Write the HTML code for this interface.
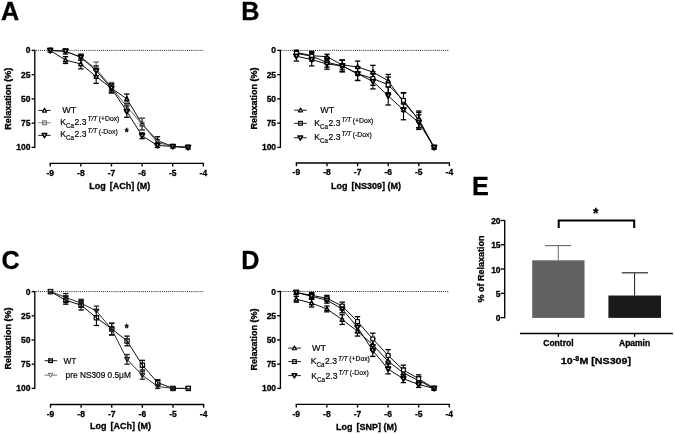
<!DOCTYPE html><html><head><meta charset="utf-8"><title>Figure</title><style>html,body{margin:0;padding:0;background:#fff;overflow:hidden}svg{display:block;filter:grayscale(1) blur(0.3px)}text{font-family:"Liberation Sans",sans-serif;fill:#000}text{stroke:#000;stroke-width:0.18px}text[font-weight="bold"]{stroke-width:0.3px}</style></head><body>
<svg width="675" height="434" viewBox="0 0 675 434">
<rect width="675" height="434" fill="#fff"/>
<text x="0.9" y="19.6" font-size="25.2" font-weight="bold" text-anchor="start" >A</text>
<text x="241.3" y="19.6" font-size="25.2" font-weight="bold" text-anchor="start" >B</text>
<text x="1.5" y="269.3" font-size="25.2" font-weight="bold" text-anchor="start" >C</text>
<text x="241.3" y="269" font-size="25.2" font-weight="bold" text-anchor="start" >D</text>
<text x="471.9" y="194.7" font-size="25.2" font-weight="bold" text-anchor="start" >E</text>
<line x1="34.8" y1="49.8" x2="34.8" y2="148" stroke="#000" stroke-width="1.35" />
<line x1="31.6" y1="50.4" x2="34.8" y2="50.4" stroke="#000" stroke-width="1.35" />
<text x="30.5" y="53.4" font-size="8.5" font-weight="bold" text-anchor="end" >0</text>
<line x1="31.6" y1="74.65" x2="34.8" y2="74.65" stroke="#000" stroke-width="1.35" />
<text x="30.5" y="77.65" font-size="8.5" font-weight="bold" text-anchor="end" >25</text>
<line x1="31.6" y1="98.9" x2="34.8" y2="98.9" stroke="#000" stroke-width="1.35" />
<text x="30.5" y="101.9" font-size="8.5" font-weight="bold" text-anchor="end" >50</text>
<line x1="31.6" y1="123.15" x2="34.8" y2="123.15" stroke="#000" stroke-width="1.35" />
<text x="30.5" y="126.15" font-size="8.5" font-weight="bold" text-anchor="end" >75</text>
<line x1="31.6" y1="147.4" x2="34.8" y2="147.4" stroke="#000" stroke-width="1.35" />
<text x="30.5" y="150.4" font-size="8.5" font-weight="bold" text-anchor="end" >100</text>
<line x1="35.8" y1="50.4" x2="202.9" y2="50.4" stroke="#000" stroke-width="0.9" stroke-dasharray="1,1.1"/>
<line x1="49.6" y1="163.3" x2="204" y2="163.3" stroke="#000" stroke-width="1.35" />
<line x1="50.2" y1="163.3" x2="50.2" y2="166.5" stroke="#000" stroke-width="1.35" />
<text x="50.2" y="175.5" font-size="8.5" font-weight="bold" text-anchor="middle" >-9</text>
<line x1="80.84" y1="163.3" x2="80.84" y2="166.5" stroke="#000" stroke-width="1.35" />
<text x="80.84" y="175.5" font-size="8.5" font-weight="bold" text-anchor="middle" >-8</text>
<line x1="111.48" y1="163.3" x2="111.48" y2="166.5" stroke="#000" stroke-width="1.35" />
<text x="111.48" y="175.5" font-size="8.5" font-weight="bold" text-anchor="middle" >-7</text>
<line x1="142.12" y1="163.3" x2="142.12" y2="166.5" stroke="#000" stroke-width="1.35" />
<text x="142.12" y="175.5" font-size="8.5" font-weight="bold" text-anchor="middle" >-6</text>
<line x1="172.76" y1="163.3" x2="172.76" y2="166.5" stroke="#000" stroke-width="1.35" />
<text x="172.76" y="175.5" font-size="8.5" font-weight="bold" text-anchor="middle" >-5</text>
<line x1="203.4" y1="163.3" x2="203.4" y2="166.5" stroke="#000" stroke-width="1.35" />
<text x="203.4" y="175.5" font-size="8.5" font-weight="bold" text-anchor="middle" >-4</text>
<text x="89.3" y="189.2" font-size="9" font-weight="bold" text-anchor="start" xml:space="preserve">Log <tspan dx="1.5">[ACh] (M)</tspan></text>
<text x="0" y="0" font-size="9" font-weight="bold" text-anchor="middle" transform="translate(11.3,98.8) rotate(-90)">Relaxation (%)</text>
<polyline points="50.2,50.4 65.52,60.1 80.84,63.98 96.16,76.59 111.48,88.23 126.8,98.9 142.12,124.12 157.44,140.61 172.76,146.43 188.08,147.4" fill="none" stroke="#000" stroke-width="0.95"/>
<polyline points="50.2,50.4 65.52,51.37 80.84,57.19 96.16,68.83 111.48,87.26 126.8,106.66 142.12,124.12 157.44,142.55 172.76,146.43 188.08,147.4" fill="none" stroke="#555" stroke-width="0.95"/>
<polyline points="50.2,50.4 65.52,51.37 80.84,57.19 96.16,70.77 111.48,88.23 126.8,111.51 142.12,135.76 157.44,145.46 172.76,146.43 188.08,147.4" fill="none" stroke="#000" stroke-width="0.95"/>
<line x1="65.52" y1="56.7" x2="65.52" y2="63.49" stroke="#000" stroke-width="1.1" />
<line x1="62.82" y1="56.7" x2="68.22" y2="56.7" stroke="#000" stroke-width="1.3" />
<line x1="62.82" y1="63.49" x2="68.22" y2="63.49" stroke="#000" stroke-width="1.3" />
<line x1="80.84" y1="59.13" x2="80.84" y2="68.83" stroke="#000" stroke-width="1.1" />
<line x1="78.14" y1="59.13" x2="83.54" y2="59.13" stroke="#000" stroke-width="1.3" />
<line x1="78.14" y1="68.83" x2="83.54" y2="68.83" stroke="#000" stroke-width="1.3" />
<line x1="96.16" y1="69.8" x2="96.16" y2="83.38" stroke="#000" stroke-width="1.1" />
<line x1="93.46" y1="69.8" x2="98.86" y2="69.8" stroke="#000" stroke-width="1.3" />
<line x1="93.46" y1="83.38" x2="98.86" y2="83.38" stroke="#000" stroke-width="1.3" />
<line x1="111.48" y1="83.38" x2="111.48" y2="93.08" stroke="#000" stroke-width="1.1" />
<line x1="108.78" y1="83.38" x2="114.18" y2="83.38" stroke="#000" stroke-width="1.3" />
<line x1="108.78" y1="93.08" x2="114.18" y2="93.08" stroke="#000" stroke-width="1.3" />
<line x1="126.8" y1="94.05" x2="126.8" y2="103.75" stroke="#000" stroke-width="1.1" />
<line x1="124.1" y1="94.05" x2="129.5" y2="94.05" stroke="#000" stroke-width="1.3" />
<line x1="124.1" y1="103.75" x2="129.5" y2="103.75" stroke="#000" stroke-width="1.3" />
<line x1="142.12" y1="118.3" x2="142.12" y2="129.94" stroke="#000" stroke-width="1.1" />
<line x1="139.42" y1="118.3" x2="144.82" y2="118.3" stroke="#000" stroke-width="1.3" />
<line x1="139.42" y1="129.94" x2="144.82" y2="129.94" stroke="#000" stroke-width="1.3" />
<line x1="157.44" y1="136.73" x2="157.44" y2="144.49" stroke="#000" stroke-width="1.1" />
<line x1="154.74" y1="136.73" x2="160.14" y2="136.73" stroke="#000" stroke-width="1.3" />
<line x1="154.74" y1="144.49" x2="160.14" y2="144.49" stroke="#000" stroke-width="1.3" />
<line x1="172.76" y1="145.46" x2="172.76" y2="147.4" stroke="#000" stroke-width="1.1" />
<line x1="170.06" y1="145.46" x2="175.46" y2="145.46" stroke="#000" stroke-width="1.3" />
<line x1="170.06" y1="147.4" x2="175.46" y2="147.4" stroke="#000" stroke-width="1.3" />
<line x1="65.52" y1="48.95" x2="65.52" y2="53.8" stroke="#666" stroke-width="1.1" />
<line x1="62.82" y1="48.95" x2="68.22" y2="48.95" stroke="#666" stroke-width="1.3" />
<line x1="62.82" y1="53.8" x2="68.22" y2="53.8" stroke="#666" stroke-width="1.3" />
<line x1="80.84" y1="54.28" x2="80.84" y2="60.1" stroke="#666" stroke-width="1.1" />
<line x1="78.14" y1="54.28" x2="83.54" y2="54.28" stroke="#666" stroke-width="1.3" />
<line x1="78.14" y1="60.1" x2="83.54" y2="60.1" stroke="#666" stroke-width="1.3" />
<line x1="96.16" y1="62.04" x2="96.16" y2="75.62" stroke="#666" stroke-width="1.1" />
<line x1="93.46" y1="62.04" x2="98.86" y2="62.04" stroke="#666" stroke-width="1.3" />
<line x1="93.46" y1="75.62" x2="98.86" y2="75.62" stroke="#666" stroke-width="1.3" />
<line x1="111.48" y1="82.41" x2="111.48" y2="92.11" stroke="#666" stroke-width="1.1" />
<line x1="108.78" y1="82.41" x2="114.18" y2="82.41" stroke="#666" stroke-width="1.3" />
<line x1="108.78" y1="92.11" x2="114.18" y2="92.11" stroke="#666" stroke-width="1.3" />
<line x1="126.8" y1="101.81" x2="126.8" y2="111.51" stroke="#666" stroke-width="1.1" />
<line x1="124.1" y1="101.81" x2="129.5" y2="101.81" stroke="#666" stroke-width="1.3" />
<line x1="124.1" y1="111.51" x2="129.5" y2="111.51" stroke="#666" stroke-width="1.3" />
<line x1="142.12" y1="118.3" x2="142.12" y2="129.94" stroke="#666" stroke-width="1.1" />
<line x1="139.42" y1="118.3" x2="144.82" y2="118.3" stroke="#666" stroke-width="1.3" />
<line x1="139.42" y1="129.94" x2="144.82" y2="129.94" stroke="#666" stroke-width="1.3" />
<line x1="157.44" y1="139.64" x2="157.44" y2="145.46" stroke="#666" stroke-width="1.1" />
<line x1="154.74" y1="139.64" x2="160.14" y2="139.64" stroke="#666" stroke-width="1.3" />
<line x1="154.74" y1="145.46" x2="160.14" y2="145.46" stroke="#666" stroke-width="1.3" />
<line x1="172.76" y1="145.46" x2="172.76" y2="147.4" stroke="#666" stroke-width="1.1" />
<line x1="170.06" y1="145.46" x2="175.46" y2="145.46" stroke="#666" stroke-width="1.3" />
<line x1="170.06" y1="147.4" x2="175.46" y2="147.4" stroke="#666" stroke-width="1.3" />
<line x1="65.52" y1="48.95" x2="65.52" y2="53.8" stroke="#000" stroke-width="1.1" />
<line x1="62.82" y1="48.95" x2="68.22" y2="48.95" stroke="#000" stroke-width="1.3" />
<line x1="62.82" y1="53.8" x2="68.22" y2="53.8" stroke="#000" stroke-width="1.3" />
<line x1="80.84" y1="54.28" x2="80.84" y2="60.1" stroke="#000" stroke-width="1.1" />
<line x1="78.14" y1="54.28" x2="83.54" y2="54.28" stroke="#000" stroke-width="1.3" />
<line x1="78.14" y1="60.1" x2="83.54" y2="60.1" stroke="#000" stroke-width="1.3" />
<line x1="96.16" y1="65.92" x2="96.16" y2="75.62" stroke="#000" stroke-width="1.1" />
<line x1="93.46" y1="65.92" x2="98.86" y2="65.92" stroke="#000" stroke-width="1.3" />
<line x1="93.46" y1="75.62" x2="98.86" y2="75.62" stroke="#000" stroke-width="1.3" />
<line x1="111.48" y1="84.35" x2="111.48" y2="92.11" stroke="#000" stroke-width="1.1" />
<line x1="108.78" y1="84.35" x2="114.18" y2="84.35" stroke="#000" stroke-width="1.3" />
<line x1="108.78" y1="92.11" x2="114.18" y2="92.11" stroke="#000" stroke-width="1.3" />
<line x1="126.8" y1="105.69" x2="126.8" y2="117.33" stroke="#000" stroke-width="1.1" />
<line x1="124.1" y1="105.69" x2="129.5" y2="105.69" stroke="#000" stroke-width="1.3" />
<line x1="124.1" y1="117.33" x2="129.5" y2="117.33" stroke="#000" stroke-width="1.3" />
<line x1="142.12" y1="132.85" x2="142.12" y2="138.67" stroke="#000" stroke-width="1.1" />
<line x1="139.42" y1="132.85" x2="144.82" y2="132.85" stroke="#000" stroke-width="1.3" />
<line x1="139.42" y1="138.67" x2="144.82" y2="138.67" stroke="#000" stroke-width="1.3" />
<line x1="157.44" y1="143.52" x2="157.44" y2="147.4" stroke="#000" stroke-width="1.1" />
<line x1="154.74" y1="143.52" x2="160.14" y2="143.52" stroke="#000" stroke-width="1.3" />
<line x1="154.74" y1="147.4" x2="160.14" y2="147.4" stroke="#000" stroke-width="1.3" />
<line x1="172.76" y1="145.46" x2="172.76" y2="147.4" stroke="#000" stroke-width="1.1" />
<line x1="170.06" y1="145.46" x2="175.46" y2="145.46" stroke="#000" stroke-width="1.3" />
<line x1="170.06" y1="147.4" x2="175.46" y2="147.4" stroke="#000" stroke-width="1.3" />
<polygon points="50.2,48.2 52.2,52.05 48.2,52.05" fill="#fff" stroke="#000" stroke-width="1.5" stroke-linejoin="round"/>
<polygon points="65.52,57.9 67.52,61.75 63.52,61.75" fill="#fff" stroke="#000" stroke-width="1.5" stroke-linejoin="round"/>
<polygon points="80.84,61.78 82.84,65.63 78.84,65.63" fill="#fff" stroke="#000" stroke-width="1.5" stroke-linejoin="round"/>
<polygon points="96.16,74.39 98.16,78.24 94.16,78.24" fill="#fff" stroke="#000" stroke-width="1.5" stroke-linejoin="round"/>
<polygon points="111.48,86.03 113.48,89.88 109.48,89.88" fill="#fff" stroke="#000" stroke-width="1.5" stroke-linejoin="round"/>
<polygon points="126.8,96.7 128.8,100.55 124.8,100.55" fill="#fff" stroke="#000" stroke-width="1.5" stroke-linejoin="round"/>
<polygon points="142.12,121.92 144.12,125.77 140.12,125.77" fill="#fff" stroke="#000" stroke-width="1.5" stroke-linejoin="round"/>
<polygon points="157.44,138.41 159.44,142.26 155.44,142.26" fill="#fff" stroke="#000" stroke-width="1.5" stroke-linejoin="round"/>
<polygon points="172.76,144.23 174.76,148.08 170.76,148.08" fill="#fff" stroke="#000" stroke-width="1.5" stroke-linejoin="round"/>
<polygon points="188.08,145.2 190.08,149.05 186.08,149.05" fill="#fff" stroke="#000" stroke-width="1.5" stroke-linejoin="round"/>
<rect x="48.3" y="48.5" width="3.8" height="3.8" fill="none" stroke="#666" stroke-width="1.1"/>
<rect x="63.62" y="49.47" width="3.8" height="3.8" fill="none" stroke="#666" stroke-width="1.1"/>
<rect x="78.94" y="55.29" width="3.8" height="3.8" fill="none" stroke="#666" stroke-width="1.1"/>
<rect x="94.26" y="66.93" width="3.8" height="3.8" fill="none" stroke="#666" stroke-width="1.1"/>
<rect x="109.58" y="85.36" width="3.8" height="3.8" fill="none" stroke="#666" stroke-width="1.1"/>
<rect x="124.9" y="104.76" width="3.8" height="3.8" fill="none" stroke="#666" stroke-width="1.1"/>
<rect x="140.22" y="122.22" width="3.8" height="3.8" fill="none" stroke="#666" stroke-width="1.1"/>
<rect x="155.54" y="140.65" width="3.8" height="3.8" fill="none" stroke="#666" stroke-width="1.1"/>
<rect x="170.86" y="144.53" width="3.8" height="3.8" fill="none" stroke="#666" stroke-width="1.1"/>
<rect x="186.18" y="145.5" width="3.8" height="3.8" fill="none" stroke="#666" stroke-width="1.1"/>
<polygon points="47.85,48.5 52.55,48.5 50.2,52.7" fill="#fff" stroke="#000" stroke-width="1.8" stroke-linejoin="round"/>
<polygon points="63.17,49.47 67.87,49.47 65.52,53.67" fill="#fff" stroke="#000" stroke-width="1.8" stroke-linejoin="round"/>
<polygon points="78.49,55.29 83.19,55.29 80.84,59.49" fill="#fff" stroke="#000" stroke-width="1.8" stroke-linejoin="round"/>
<polygon points="93.81,68.87 98.51,68.87 96.16,73.07" fill="#fff" stroke="#000" stroke-width="1.8" stroke-linejoin="round"/>
<polygon points="109.13,86.33 113.83,86.33 111.48,90.53" fill="#fff" stroke="#000" stroke-width="1.8" stroke-linejoin="round"/>
<polygon points="124.45,109.61 129.15,109.61 126.8,113.81" fill="#fff" stroke="#000" stroke-width="1.8" stroke-linejoin="round"/>
<polygon points="139.77,133.86 144.47,133.86 142.12,138.06" fill="#fff" stroke="#000" stroke-width="1.8" stroke-linejoin="round"/>
<polygon points="155.09,143.56 159.79,143.56 157.44,147.76" fill="#fff" stroke="#000" stroke-width="1.8" stroke-linejoin="round"/>
<polygon points="170.41,144.53 175.11,144.53 172.76,148.73" fill="#fff" stroke="#000" stroke-width="1.8" stroke-linejoin="round"/>
<polygon points="185.73,145.5 190.43,145.5 188.08,149.7" fill="#fff" stroke="#000" stroke-width="1.8" stroke-linejoin="round"/>
<line x1="38.3" y1="110.4" x2="50.6" y2="110.4" stroke="#000" stroke-width="0.9" />
<polygon points="44.5,108.2 46.5,112.05 42.5,112.05" fill="#fff" stroke="#000" stroke-width="1.15" stroke-linejoin="round"/>
<line x1="38.3" y1="122.8" x2="50.6" y2="122.8" stroke="#777" stroke-width="0.9" />
<rect x="42.62" y="120.92" width="3.75" height="3.75" fill="none" stroke="#777" stroke-width="1.15"/>
<line x1="38.3" y1="135.4" x2="50.6" y2="135.4" stroke="#000" stroke-width="0.9" />
<polygon points="42.15,133.5 46.85,133.5 44.5,137.7" fill="#fff" stroke="#000" stroke-width="1.5" stroke-linejoin="round"/>
<text x="62.2" y="113.3" font-size="9" font-weight="normal" text-anchor="start" >WT</text>
<text y="124.8" font-size="8.6"><tspan x="60.2">K</tspan><tspan font-size="6.3" dy="2.8">Ca</tspan><tspan dy="-2.8" dx="0.5">2.3</tspan><tspan font-size="6.5" font-style="italic" dy="-3.9" dx="1.0">T/T</tspan><tspan font-size="6.8" dx="1.6" dy="0.5">(+Dox)</tspan></text>
<text y="137.2" font-size="8.6"><tspan x="60.2">K</tspan><tspan font-size="6.3" dy="2.8">Ca</tspan><tspan dy="-2.8" dx="0.5">2.3</tspan><tspan font-size="6.5" font-style="italic" dy="-3.9" dx="1.0">T/T</tspan><tspan font-size="6.8" dx="1.6" dy="0.5">(-Dox)</tspan></text>
<text x="126.8" y="135.6" font-size="10" font-weight="bold" text-anchor="middle" >*</text>
<line x1="280.4" y1="49.8" x2="280.4" y2="148" stroke="#000" stroke-width="1.35" />
<line x1="277.2" y1="50.4" x2="280.4" y2="50.4" stroke="#000" stroke-width="1.35" />
<text x="276.1" y="53.4" font-size="8.5" font-weight="bold" text-anchor="end" >0</text>
<line x1="277.2" y1="74.65" x2="280.4" y2="74.65" stroke="#000" stroke-width="1.35" />
<text x="276.1" y="77.65" font-size="8.5" font-weight="bold" text-anchor="end" >25</text>
<line x1="277.2" y1="98.9" x2="280.4" y2="98.9" stroke="#000" stroke-width="1.35" />
<text x="276.1" y="101.9" font-size="8.5" font-weight="bold" text-anchor="end" >50</text>
<line x1="277.2" y1="123.15" x2="280.4" y2="123.15" stroke="#000" stroke-width="1.35" />
<text x="276.1" y="126.15" font-size="8.5" font-weight="bold" text-anchor="end" >75</text>
<line x1="277.2" y1="147.4" x2="280.4" y2="147.4" stroke="#000" stroke-width="1.35" />
<text x="276.1" y="150.4" font-size="8.5" font-weight="bold" text-anchor="end" >100</text>
<line x1="281.4" y1="50.4" x2="448.9" y2="50.4" stroke="#000" stroke-width="0.9" stroke-dasharray="1,1.1"/>
<line x1="295.8" y1="163" x2="450" y2="163" stroke="#000" stroke-width="1.35" />
<line x1="296.4" y1="163" x2="296.4" y2="166.2" stroke="#000" stroke-width="1.35" />
<text x="296.4" y="175.2" font-size="8.5" font-weight="bold" text-anchor="middle" >-9</text>
<line x1="327" y1="163" x2="327" y2="166.2" stroke="#000" stroke-width="1.35" />
<text x="327" y="175.2" font-size="8.5" font-weight="bold" text-anchor="middle" >-8</text>
<line x1="357.6" y1="163" x2="357.6" y2="166.2" stroke="#000" stroke-width="1.35" />
<text x="357.6" y="175.2" font-size="8.5" font-weight="bold" text-anchor="middle" >-7</text>
<line x1="388.2" y1="163" x2="388.2" y2="166.2" stroke="#000" stroke-width="1.35" />
<text x="388.2" y="175.2" font-size="8.5" font-weight="bold" text-anchor="middle" >-6</text>
<line x1="418.8" y1="163" x2="418.8" y2="166.2" stroke="#000" stroke-width="1.35" />
<text x="418.8" y="175.2" font-size="8.5" font-weight="bold" text-anchor="middle" >-5</text>
<line x1="449.4" y1="163" x2="449.4" y2="166.2" stroke="#000" stroke-width="1.35" />
<text x="449.4" y="175.2" font-size="8.5" font-weight="bold" text-anchor="middle" >-4</text>
<text x="330.9" y="189.2" font-size="9" font-weight="bold" text-anchor="start" xml:space="preserve">Log <tspan dx="1.5">[NS309] (M)</tspan></text>
<text x="0" y="0" font-size="9" font-weight="bold" text-anchor="middle" transform="translate(257.2,98.4) rotate(-90)">Relaxation (%)</text>
<polyline points="296.4,52.34 311.7,55.73 327,56.7 342.3,64.95 357.6,66.89 372.9,72.13 388.2,80.76 403.5,102.3 418.8,119.27 434.1,147.4" fill="none" stroke="#000" stroke-width="0.95"/>
<polyline points="296.4,53.31 311.7,56.22 327,62.33 342.3,65.92 357.6,73.68 372.9,78.53 388.2,84.84 403.5,100.35 418.8,120.24 434.1,147.4" fill="none" stroke="#000" stroke-width="0.95"/>
<polyline points="296.4,56.22 311.7,59.61 327,63.98 342.3,65.92 357.6,73.68 372.9,81.44 388.2,95.7 403.5,110.06 418.8,122.18 434.1,147.4" fill="none" stroke="#000" stroke-width="0.95"/>
<line x1="296.4" y1="50.4" x2="296.4" y2="54.28" stroke="#000" stroke-width="1.1" />
<line x1="293.7" y1="50.4" x2="299.1" y2="50.4" stroke="#000" stroke-width="1.3" />
<line x1="293.7" y1="54.28" x2="299.1" y2="54.28" stroke="#000" stroke-width="1.3" />
<line x1="311.7" y1="52.34" x2="311.7" y2="59.13" stroke="#000" stroke-width="1.1" />
<line x1="309" y1="52.34" x2="314.4" y2="52.34" stroke="#000" stroke-width="1.3" />
<line x1="309" y1="59.13" x2="314.4" y2="59.13" stroke="#000" stroke-width="1.3" />
<line x1="327" y1="54.28" x2="327" y2="59.13" stroke="#000" stroke-width="1.1" />
<line x1="324.3" y1="54.28" x2="329.7" y2="54.28" stroke="#000" stroke-width="1.3" />
<line x1="324.3" y1="59.13" x2="329.7" y2="59.13" stroke="#000" stroke-width="1.3" />
<line x1="342.3" y1="60.1" x2="342.3" y2="69.8" stroke="#000" stroke-width="1.1" />
<line x1="339.6" y1="60.1" x2="345" y2="60.1" stroke="#000" stroke-width="1.3" />
<line x1="339.6" y1="69.8" x2="345" y2="69.8" stroke="#000" stroke-width="1.3" />
<line x1="357.6" y1="61.07" x2="357.6" y2="72.71" stroke="#000" stroke-width="1.1" />
<line x1="354.9" y1="61.07" x2="360.3" y2="61.07" stroke="#000" stroke-width="1.3" />
<line x1="354.9" y1="72.71" x2="360.3" y2="72.71" stroke="#000" stroke-width="1.3" />
<line x1="372.9" y1="65.34" x2="372.9" y2="78.92" stroke="#000" stroke-width="1.1" />
<line x1="370.2" y1="65.34" x2="375.6" y2="65.34" stroke="#000" stroke-width="1.3" />
<line x1="370.2" y1="78.92" x2="375.6" y2="78.92" stroke="#000" stroke-width="1.3" />
<line x1="388.2" y1="74.46" x2="388.2" y2="87.07" stroke="#000" stroke-width="1.1" />
<line x1="385.5" y1="74.46" x2="390.9" y2="74.46" stroke="#000" stroke-width="1.3" />
<line x1="385.5" y1="87.07" x2="390.9" y2="87.07" stroke="#000" stroke-width="1.3" />
<line x1="403.5" y1="93.08" x2="403.5" y2="111.51" stroke="#000" stroke-width="1.1" />
<line x1="400.8" y1="93.08" x2="406.2" y2="93.08" stroke="#000" stroke-width="1.3" />
<line x1="400.8" y1="111.51" x2="406.2" y2="111.51" stroke="#000" stroke-width="1.3" />
<line x1="418.8" y1="111.03" x2="418.8" y2="127.51" stroke="#000" stroke-width="1.1" />
<line x1="416.1" y1="111.03" x2="421.5" y2="111.03" stroke="#000" stroke-width="1.3" />
<line x1="416.1" y1="127.51" x2="421.5" y2="127.51" stroke="#000" stroke-width="1.3" />
<line x1="296.4" y1="50.4" x2="296.4" y2="56.22" stroke="#000" stroke-width="1.1" />
<line x1="293.7" y1="50.4" x2="299.1" y2="50.4" stroke="#000" stroke-width="1.3" />
<line x1="293.7" y1="56.22" x2="299.1" y2="56.22" stroke="#000" stroke-width="1.3" />
<line x1="311.7" y1="51.37" x2="311.7" y2="61.07" stroke="#000" stroke-width="1.1" />
<line x1="309" y1="51.37" x2="314.4" y2="51.37" stroke="#000" stroke-width="1.3" />
<line x1="309" y1="61.07" x2="314.4" y2="61.07" stroke="#000" stroke-width="1.3" />
<line x1="327" y1="57.48" x2="327" y2="67.18" stroke="#000" stroke-width="1.1" />
<line x1="324.3" y1="57.48" x2="329.7" y2="57.48" stroke="#000" stroke-width="1.3" />
<line x1="324.3" y1="67.18" x2="329.7" y2="67.18" stroke="#000" stroke-width="1.3" />
<line x1="342.3" y1="60.1" x2="342.3" y2="71.74" stroke="#000" stroke-width="1.1" />
<line x1="339.6" y1="60.1" x2="345" y2="60.1" stroke="#000" stroke-width="1.3" />
<line x1="339.6" y1="71.74" x2="345" y2="71.74" stroke="#000" stroke-width="1.3" />
<line x1="357.6" y1="66.89" x2="357.6" y2="80.47" stroke="#000" stroke-width="1.1" />
<line x1="354.9" y1="66.89" x2="360.3" y2="66.89" stroke="#000" stroke-width="1.3" />
<line x1="354.9" y1="80.47" x2="360.3" y2="80.47" stroke="#000" stroke-width="1.3" />
<line x1="372.9" y1="71.74" x2="372.9" y2="85.32" stroke="#000" stroke-width="1.1" />
<line x1="370.2" y1="71.74" x2="375.6" y2="71.74" stroke="#000" stroke-width="1.3" />
<line x1="370.2" y1="85.32" x2="375.6" y2="85.32" stroke="#000" stroke-width="1.3" />
<line x1="388.2" y1="77.08" x2="388.2" y2="92.59" stroke="#000" stroke-width="1.1" />
<line x1="385.5" y1="77.08" x2="390.9" y2="77.08" stroke="#000" stroke-width="1.3" />
<line x1="385.5" y1="92.59" x2="390.9" y2="92.59" stroke="#000" stroke-width="1.3" />
<line x1="403.5" y1="92.59" x2="403.5" y2="108.12" stroke="#000" stroke-width="1.1" />
<line x1="400.8" y1="92.59" x2="406.2" y2="92.59" stroke="#000" stroke-width="1.3" />
<line x1="400.8" y1="108.12" x2="406.2" y2="108.12" stroke="#000" stroke-width="1.3" />
<line x1="418.8" y1="112.48" x2="418.8" y2="128" stroke="#000" stroke-width="1.1" />
<line x1="416.1" y1="112.48" x2="421.5" y2="112.48" stroke="#000" stroke-width="1.3" />
<line x1="416.1" y1="128" x2="421.5" y2="128" stroke="#000" stroke-width="1.3" />
<line x1="296.4" y1="51.37" x2="296.4" y2="61.07" stroke="#000" stroke-width="1.1" />
<line x1="293.7" y1="51.37" x2="299.1" y2="51.37" stroke="#000" stroke-width="1.3" />
<line x1="293.7" y1="61.07" x2="299.1" y2="61.07" stroke="#000" stroke-width="1.3" />
<line x1="311.7" y1="53.31" x2="311.7" y2="65.92" stroke="#000" stroke-width="1.1" />
<line x1="309" y1="53.31" x2="314.4" y2="53.31" stroke="#000" stroke-width="1.3" />
<line x1="309" y1="65.92" x2="314.4" y2="65.92" stroke="#000" stroke-width="1.3" />
<line x1="327" y1="58.74" x2="327" y2="69.22" stroke="#000" stroke-width="1.1" />
<line x1="324.3" y1="58.74" x2="329.7" y2="58.74" stroke="#000" stroke-width="1.3" />
<line x1="324.3" y1="69.22" x2="329.7" y2="69.22" stroke="#000" stroke-width="1.3" />
<line x1="342.3" y1="60.1" x2="342.3" y2="71.74" stroke="#000" stroke-width="1.1" />
<line x1="339.6" y1="60.1" x2="345" y2="60.1" stroke="#000" stroke-width="1.3" />
<line x1="339.6" y1="71.74" x2="345" y2="71.74" stroke="#000" stroke-width="1.3" />
<line x1="357.6" y1="66.89" x2="357.6" y2="80.47" stroke="#000" stroke-width="1.1" />
<line x1="354.9" y1="66.89" x2="360.3" y2="66.89" stroke="#000" stroke-width="1.3" />
<line x1="354.9" y1="80.47" x2="360.3" y2="80.47" stroke="#000" stroke-width="1.3" />
<line x1="372.9" y1="73.97" x2="372.9" y2="88.91" stroke="#000" stroke-width="1.1" />
<line x1="370.2" y1="73.97" x2="375.6" y2="73.97" stroke="#000" stroke-width="1.3" />
<line x1="370.2" y1="88.91" x2="375.6" y2="88.91" stroke="#000" stroke-width="1.3" />
<line x1="388.2" y1="86.39" x2="388.2" y2="105.01" stroke="#000" stroke-width="1.1" />
<line x1="385.5" y1="86.39" x2="390.9" y2="86.39" stroke="#000" stroke-width="1.3" />
<line x1="385.5" y1="105.01" x2="390.9" y2="105.01" stroke="#000" stroke-width="1.3" />
<line x1="403.5" y1="100.35" x2="403.5" y2="119.75" stroke="#000" stroke-width="1.1" />
<line x1="400.8" y1="100.35" x2="406.2" y2="100.35" stroke="#000" stroke-width="1.3" />
<line x1="400.8" y1="119.75" x2="406.2" y2="119.75" stroke="#000" stroke-width="1.3" />
<line x1="418.8" y1="114.91" x2="418.8" y2="129.46" stroke="#000" stroke-width="1.1" />
<line x1="416.1" y1="114.91" x2="421.5" y2="114.91" stroke="#000" stroke-width="1.3" />
<line x1="416.1" y1="129.46" x2="421.5" y2="129.46" stroke="#000" stroke-width="1.3" />
<polygon points="296.4,50.14 298.4,53.99 294.4,53.99" fill="#fff" stroke="#000" stroke-width="1.5" stroke-linejoin="round"/>
<polygon points="311.7,53.53 313.7,57.38 309.7,57.38" fill="#fff" stroke="#000" stroke-width="1.5" stroke-linejoin="round"/>
<polygon points="327,54.5 329,58.35 325,58.35" fill="#fff" stroke="#000" stroke-width="1.5" stroke-linejoin="round"/>
<polygon points="342.3,62.75 344.3,66.6 340.3,66.6" fill="#fff" stroke="#000" stroke-width="1.5" stroke-linejoin="round"/>
<polygon points="357.6,64.69 359.6,68.54 355.6,68.54" fill="#fff" stroke="#000" stroke-width="1.5" stroke-linejoin="round"/>
<polygon points="372.9,69.93 374.9,73.78 370.9,73.78" fill="#fff" stroke="#000" stroke-width="1.5" stroke-linejoin="round"/>
<polygon points="388.2,78.56 390.2,82.41 386.2,82.41" fill="#fff" stroke="#000" stroke-width="1.5" stroke-linejoin="round"/>
<polygon points="403.5,100.09 405.5,103.95 401.5,103.95" fill="#fff" stroke="#000" stroke-width="1.5" stroke-linejoin="round"/>
<polygon points="418.8,117.07 420.8,120.92 416.8,120.92" fill="#fff" stroke="#000" stroke-width="1.5" stroke-linejoin="round"/>
<polygon points="434.1,145.2 436.1,149.05 432.1,149.05" fill="#fff" stroke="#000" stroke-width="1.5" stroke-linejoin="round"/>
<rect x="294.5" y="51.41" width="3.8" height="3.8" fill="#fff" stroke="#000" stroke-width="1.1"/>
<rect x="309.8" y="54.32" width="3.8" height="3.8" fill="#fff" stroke="#000" stroke-width="1.1"/>
<rect x="325.1" y="60.43" width="3.8" height="3.8" fill="#fff" stroke="#000" stroke-width="1.1"/>
<rect x="340.4" y="64.02" width="3.8" height="3.8" fill="#fff" stroke="#000" stroke-width="1.1"/>
<rect x="355.7" y="71.78" width="3.8" height="3.8" fill="#fff" stroke="#000" stroke-width="1.1"/>
<rect x="371" y="76.63" width="3.8" height="3.8" fill="#fff" stroke="#000" stroke-width="1.1"/>
<rect x="386.3" y="82.94" width="3.8" height="3.8" fill="#fff" stroke="#000" stroke-width="1.1"/>
<rect x="401.6" y="98.45" width="3.8" height="3.8" fill="#fff" stroke="#000" stroke-width="1.1"/>
<rect x="416.9" y="118.34" width="3.8" height="3.8" fill="#fff" stroke="#000" stroke-width="1.1"/>
<rect x="432.2" y="145.5" width="3.8" height="3.8" fill="#fff" stroke="#000" stroke-width="1.1"/>
<polygon points="294.05,54.32 298.75,54.32 296.4,58.52" fill="#fff" stroke="#000" stroke-width="1.8" stroke-linejoin="round"/>
<polygon points="309.35,57.71 314.05,57.71 311.7,61.91" fill="#fff" stroke="#000" stroke-width="1.8" stroke-linejoin="round"/>
<polygon points="324.65,62.08 329.35,62.08 327,66.28" fill="#fff" stroke="#000" stroke-width="1.8" stroke-linejoin="round"/>
<polygon points="339.95,64.02 344.65,64.02 342.3,68.22" fill="#fff" stroke="#000" stroke-width="1.8" stroke-linejoin="round"/>
<polygon points="355.25,71.78 359.95,71.78 357.6,75.98" fill="#fff" stroke="#000" stroke-width="1.8" stroke-linejoin="round"/>
<polygon points="370.55,79.54 375.25,79.54 372.9,83.74" fill="#fff" stroke="#000" stroke-width="1.8" stroke-linejoin="round"/>
<polygon points="385.85,93.8 390.55,93.8 388.2,98" fill="#fff" stroke="#000" stroke-width="1.8" stroke-linejoin="round"/>
<polygon points="401.15,108.16 405.85,108.16 403.5,112.36" fill="#fff" stroke="#000" stroke-width="1.8" stroke-linejoin="round"/>
<polygon points="416.45,120.28 421.15,120.28 418.8,124.48" fill="#fff" stroke="#000" stroke-width="1.8" stroke-linejoin="round"/>
<polygon points="431.75,145.5 436.45,145.5 434.1,149.7" fill="#fff" stroke="#000" stroke-width="1.8" stroke-linejoin="round"/>
<line x1="294.2" y1="110.2" x2="306.8" y2="110.2" stroke="#000" stroke-width="0.9" />
<polygon points="300.5,108 302.5,111.85 298.5,111.85" fill="#fff" stroke="#000" stroke-width="1.15" stroke-linejoin="round"/>
<line x1="294.2" y1="123.3" x2="306.8" y2="123.3" stroke="#000" stroke-width="0.9" />
<rect x="298.62" y="121.42" width="3.75" height="3.75" fill="none" stroke="#000" stroke-width="1.15"/>
<line x1="294" y1="137.8" x2="306.6" y2="137.8" stroke="#000" stroke-width="0.9" />
<polygon points="297.95,135.9 302.65,135.9 300.3,140.1" fill="#fff" stroke="#000" stroke-width="1.5" stroke-linejoin="round"/>
<text x="320.3" y="113.2" font-size="9" font-weight="normal" text-anchor="start" >WT</text>
<text y="125.9" font-size="8.6"><tspan x="314.2">K</tspan><tspan font-size="6.3" dy="2.8">Ca</tspan><tspan dy="-2.8" dx="0.5">2.3</tspan><tspan font-size="6.5" font-style="italic" dy="-3.9" dx="1.0">T/T</tspan><tspan font-size="6.8" dx="1.6" dy="0.5">(+Dox)</tspan></text>
<text y="140.3" font-size="8.6"><tspan x="314.2">K</tspan><tspan font-size="6.3" dy="2.8">Ca</tspan><tspan dy="-2.8" dx="0.5">2.3</tspan><tspan font-size="6.5" font-style="italic" dy="-3.9" dx="1.0">T/T</tspan><tspan font-size="6.8" dx="1.6" dy="0.5">(-Dox)</tspan></text>
<line x1="34.8" y1="291" x2="34.8" y2="389" stroke="#000" stroke-width="1.35" />
<line x1="31.6" y1="291.6" x2="34.8" y2="291.6" stroke="#000" stroke-width="1.35" />
<text x="30.5" y="294.6" font-size="8.5" font-weight="bold" text-anchor="end" >0</text>
<line x1="31.6" y1="315.8" x2="34.8" y2="315.8" stroke="#000" stroke-width="1.35" />
<text x="30.5" y="318.8" font-size="8.5" font-weight="bold" text-anchor="end" >25</text>
<line x1="31.6" y1="340" x2="34.8" y2="340" stroke="#000" stroke-width="1.35" />
<text x="30.5" y="343" font-size="8.5" font-weight="bold" text-anchor="end" >50</text>
<line x1="31.6" y1="364.2" x2="34.8" y2="364.2" stroke="#000" stroke-width="1.35" />
<text x="30.5" y="367.2" font-size="8.5" font-weight="bold" text-anchor="end" >75</text>
<line x1="31.6" y1="388.4" x2="34.8" y2="388.4" stroke="#000" stroke-width="1.35" />
<text x="30.5" y="391.4" font-size="8.5" font-weight="bold" text-anchor="end" >100</text>
<line x1="35.8" y1="291.6" x2="203.1" y2="291.6" stroke="#000" stroke-width="0.9" stroke-dasharray="1,1.1"/>
<line x1="49.9" y1="404.5" x2="204.2" y2="404.5" stroke="#000" stroke-width="1.35" />
<line x1="50.5" y1="404.5" x2="50.5" y2="407.7" stroke="#000" stroke-width="1.35" />
<text x="50.5" y="416.7" font-size="8.5" font-weight="bold" text-anchor="middle" >-9</text>
<line x1="81.12" y1="404.5" x2="81.12" y2="407.7" stroke="#000" stroke-width="1.35" />
<text x="81.12" y="416.7" font-size="8.5" font-weight="bold" text-anchor="middle" >-8</text>
<line x1="111.74" y1="404.5" x2="111.74" y2="407.7" stroke="#000" stroke-width="1.35" />
<text x="111.74" y="416.7" font-size="8.5" font-weight="bold" text-anchor="middle" >-7</text>
<line x1="142.36" y1="404.5" x2="142.36" y2="407.7" stroke="#000" stroke-width="1.35" />
<text x="142.36" y="416.7" font-size="8.5" font-weight="bold" text-anchor="middle" >-6</text>
<line x1="172.98" y1="404.5" x2="172.98" y2="407.7" stroke="#000" stroke-width="1.35" />
<text x="172.98" y="416.7" font-size="8.5" font-weight="bold" text-anchor="middle" >-5</text>
<line x1="203.6" y1="404.5" x2="203.6" y2="407.7" stroke="#000" stroke-width="1.35" />
<text x="203.6" y="416.7" font-size="8.5" font-weight="bold" text-anchor="middle" >-4</text>
<text x="90" y="428.9" font-size="9" font-weight="bold" text-anchor="start" xml:space="preserve">Log <tspan dx="1.5">[ACh] (M)</tspan></text>
<text x="0" y="0" font-size="9" font-weight="bold" text-anchor="middle" transform="translate(11,338.5) rotate(-90)">Relaxation (%)</text>
<polyline points="50.5,291.6 65.81,300.31 81.12,305.15 96.43,317.74 111.74,328.87 127.05,340.97 142.36,365.17 157.67,382.59 172.98,388.4 188.29,388.4" fill="none" stroke="#000" stroke-width="0.95"/>
<polyline points="50.5,291.6 65.81,297.41 81.12,303.22 96.43,310.96 111.74,329.35 127.05,359.36 142.36,375.33 157.67,386.46 172.98,388.4 188.29,388.4" fill="none" stroke="#222" stroke-width="0.95"/>
<line x1="65.81" y1="296.44" x2="65.81" y2="304.18" stroke="#000" stroke-width="1.1" />
<line x1="63.11" y1="296.44" x2="68.51" y2="296.44" stroke="#000" stroke-width="1.3" />
<line x1="63.11" y1="304.18" x2="68.51" y2="304.18" stroke="#000" stroke-width="1.3" />
<line x1="81.12" y1="300.31" x2="81.12" y2="309.99" stroke="#000" stroke-width="1.1" />
<line x1="78.42" y1="300.31" x2="83.82" y2="300.31" stroke="#000" stroke-width="1.3" />
<line x1="78.42" y1="309.99" x2="83.82" y2="309.99" stroke="#000" stroke-width="1.3" />
<line x1="96.43" y1="309.99" x2="96.43" y2="325.48" stroke="#000" stroke-width="1.1" />
<line x1="93.73" y1="309.99" x2="99.13" y2="309.99" stroke="#000" stroke-width="1.3" />
<line x1="93.73" y1="325.48" x2="99.13" y2="325.48" stroke="#000" stroke-width="1.3" />
<line x1="111.74" y1="323.06" x2="111.74" y2="334.68" stroke="#000" stroke-width="1.1" />
<line x1="109.04" y1="323.06" x2="114.44" y2="323.06" stroke="#000" stroke-width="1.3" />
<line x1="109.04" y1="334.68" x2="114.44" y2="334.68" stroke="#000" stroke-width="1.3" />
<line x1="127.05" y1="336.13" x2="127.05" y2="345.81" stroke="#000" stroke-width="1.1" />
<line x1="124.35" y1="336.13" x2="129.75" y2="336.13" stroke="#000" stroke-width="1.3" />
<line x1="124.35" y1="345.81" x2="129.75" y2="345.81" stroke="#000" stroke-width="1.3" />
<line x1="142.36" y1="360.33" x2="142.36" y2="370.01" stroke="#000" stroke-width="1.1" />
<line x1="139.66" y1="360.33" x2="145.06" y2="360.33" stroke="#000" stroke-width="1.3" />
<line x1="139.66" y1="370.01" x2="145.06" y2="370.01" stroke="#000" stroke-width="1.3" />
<line x1="157.67" y1="379.69" x2="157.67" y2="385.5" stroke="#000" stroke-width="1.1" />
<line x1="154.97" y1="379.69" x2="160.37" y2="379.69" stroke="#000" stroke-width="1.3" />
<line x1="154.97" y1="385.5" x2="160.37" y2="385.5" stroke="#000" stroke-width="1.3" />
<line x1="172.98" y1="387.43" x2="172.98" y2="389.37" stroke="#000" stroke-width="1.1" />
<line x1="170.28" y1="387.43" x2="175.68" y2="387.43" stroke="#000" stroke-width="1.3" />
<line x1="170.28" y1="389.37" x2="175.68" y2="389.37" stroke="#000" stroke-width="1.3" />
<line x1="65.81" y1="293.54" x2="65.81" y2="301.28" stroke="#222" stroke-width="1.1" />
<line x1="63.11" y1="293.54" x2="68.51" y2="293.54" stroke="#222" stroke-width="1.3" />
<line x1="63.11" y1="301.28" x2="68.51" y2="301.28" stroke="#222" stroke-width="1.3" />
<line x1="81.12" y1="299.34" x2="81.12" y2="307.09" stroke="#222" stroke-width="1.1" />
<line x1="78.42" y1="299.34" x2="83.82" y2="299.34" stroke="#222" stroke-width="1.3" />
<line x1="78.42" y1="307.09" x2="83.82" y2="307.09" stroke="#222" stroke-width="1.3" />
<line x1="96.43" y1="306.12" x2="96.43" y2="315.8" stroke="#222" stroke-width="1.1" />
<line x1="93.73" y1="306.12" x2="99.13" y2="306.12" stroke="#222" stroke-width="1.3" />
<line x1="93.73" y1="315.8" x2="99.13" y2="315.8" stroke="#222" stroke-width="1.3" />
<line x1="111.74" y1="323.54" x2="111.74" y2="335.16" stroke="#222" stroke-width="1.1" />
<line x1="109.04" y1="323.54" x2="114.44" y2="323.54" stroke="#222" stroke-width="1.3" />
<line x1="109.04" y1="335.16" x2="114.44" y2="335.16" stroke="#222" stroke-width="1.3" />
<line x1="127.05" y1="354.52" x2="127.05" y2="364.2" stroke="#222" stroke-width="1.1" />
<line x1="124.35" y1="354.52" x2="129.75" y2="354.52" stroke="#222" stroke-width="1.3" />
<line x1="124.35" y1="364.2" x2="129.75" y2="364.2" stroke="#222" stroke-width="1.3" />
<line x1="142.36" y1="371.46" x2="142.36" y2="379.2" stroke="#222" stroke-width="1.1" />
<line x1="139.66" y1="371.46" x2="145.06" y2="371.46" stroke="#222" stroke-width="1.3" />
<line x1="139.66" y1="379.2" x2="145.06" y2="379.2" stroke="#222" stroke-width="1.3" />
<line x1="157.67" y1="384.53" x2="157.67" y2="388.4" stroke="#222" stroke-width="1.1" />
<line x1="154.97" y1="384.53" x2="160.37" y2="384.53" stroke="#222" stroke-width="1.3" />
<line x1="154.97" y1="388.4" x2="160.37" y2="388.4" stroke="#222" stroke-width="1.3" />
<line x1="172.98" y1="387.43" x2="172.98" y2="389.37" stroke="#222" stroke-width="1.1" />
<line x1="170.28" y1="387.43" x2="175.68" y2="387.43" stroke="#222" stroke-width="1.3" />
<line x1="170.28" y1="389.37" x2="175.68" y2="389.37" stroke="#222" stroke-width="1.3" />
<rect x="48.33" y="289.43" width="4.34" height="4.34" fill="none" stroke="#000" stroke-width="1.15"/>
<rect x="63.64" y="298.14" width="4.34" height="4.34" fill="none" stroke="#000" stroke-width="1.15"/>
<rect x="78.95" y="302.98" width="4.34" height="4.34" fill="none" stroke="#000" stroke-width="1.15"/>
<rect x="94.26" y="315.57" width="4.34" height="4.34" fill="none" stroke="#000" stroke-width="1.15"/>
<rect x="109.57" y="326.7" width="4.34" height="4.34" fill="none" stroke="#000" stroke-width="1.15"/>
<rect x="124.88" y="338.8" width="4.34" height="4.34" fill="none" stroke="#000" stroke-width="1.15"/>
<rect x="140.19" y="363" width="4.34" height="4.34" fill="none" stroke="#000" stroke-width="1.15"/>
<rect x="155.5" y="380.42" width="4.34" height="4.34" fill="none" stroke="#000" stroke-width="1.15"/>
<rect x="170.81" y="386.23" width="4.34" height="4.34" fill="none" stroke="#000" stroke-width="1.15"/>
<rect x="186.12" y="386.23" width="4.34" height="4.34" fill="none" stroke="#000" stroke-width="1.15"/>
<polygon points="48.15,289.7 52.85,289.7 50.5,293.9" fill="none" stroke="#222" stroke-width="1.2" stroke-linejoin="round"/>
<polygon points="63.46,295.51 68.16,295.51 65.81,299.71" fill="none" stroke="#222" stroke-width="1.2" stroke-linejoin="round"/>
<polygon points="78.77,301.32 83.47,301.32 81.12,305.52" fill="none" stroke="#222" stroke-width="1.2" stroke-linejoin="round"/>
<polygon points="94.08,309.06 98.78,309.06 96.43,313.26" fill="none" stroke="#222" stroke-width="1.2" stroke-linejoin="round"/>
<polygon points="109.39,327.45 114.09,327.45 111.74,331.65" fill="none" stroke="#222" stroke-width="1.2" stroke-linejoin="round"/>
<polygon points="124.7,357.46 129.4,357.46 127.05,361.66" fill="none" stroke="#222" stroke-width="1.2" stroke-linejoin="round"/>
<polygon points="140.01,373.43 144.71,373.43 142.36,377.63" fill="none" stroke="#222" stroke-width="1.2" stroke-linejoin="round"/>
<polygon points="155.32,384.56 160.02,384.56 157.67,388.76" fill="none" stroke="#222" stroke-width="1.2" stroke-linejoin="round"/>
<polygon points="170.63,386.5 175.33,386.5 172.98,390.7" fill="none" stroke="#222" stroke-width="1.2" stroke-linejoin="round"/>
<polygon points="185.94,386.5 190.64,386.5 188.29,390.7" fill="none" stroke="#222" stroke-width="1.2" stroke-linejoin="round"/>
<line x1="44.6" y1="360.7" x2="57.2" y2="360.7" stroke="#000" stroke-width="0.9" />
<rect x="48.8" y="358.9" width="3.6" height="3.6" fill="none" stroke="#000" stroke-width="1.3"/>
<line x1="44.6" y1="375.1" x2="57.2" y2="375.1" stroke="#666" stroke-width="0.9" />
<polygon points="48.44,373.35 52.76,373.35 50.6,377.22" fill="#fff" stroke="#666" stroke-width="1.0" stroke-linejoin="round"/>
<text x="63.4" y="363.6" font-size="8.4" font-weight="normal" text-anchor="start" >WT</text>
<text x="65.6" y="377.8" font-size="8.3" font-weight="normal" text-anchor="start" >pre NS309 0.5μM</text>
<text x="126.8" y="331.6" font-size="10" font-weight="bold" text-anchor="middle" >*</text>
<line x1="280.4" y1="290.9" x2="280.4" y2="389" stroke="#000" stroke-width="1.35" />
<line x1="277.2" y1="291.5" x2="280.4" y2="291.5" stroke="#000" stroke-width="1.35" />
<text x="276.1" y="294.5" font-size="8.5" font-weight="bold" text-anchor="end" >0</text>
<line x1="277.2" y1="315.73" x2="280.4" y2="315.73" stroke="#000" stroke-width="1.35" />
<text x="276.1" y="318.73" font-size="8.5" font-weight="bold" text-anchor="end" >25</text>
<line x1="277.2" y1="339.95" x2="280.4" y2="339.95" stroke="#000" stroke-width="1.35" />
<text x="276.1" y="342.95" font-size="8.5" font-weight="bold" text-anchor="end" >50</text>
<line x1="277.2" y1="364.17" x2="280.4" y2="364.17" stroke="#000" stroke-width="1.35" />
<text x="276.1" y="367.17" font-size="8.5" font-weight="bold" text-anchor="end" >75</text>
<line x1="277.2" y1="388.4" x2="280.4" y2="388.4" stroke="#000" stroke-width="1.35" />
<text x="276.1" y="391.4" font-size="8.5" font-weight="bold" text-anchor="end" >100</text>
<line x1="281.4" y1="291.5" x2="448.8" y2="291.5" stroke="#000" stroke-width="0.9" stroke-dasharray="1,1.1"/>
<line x1="295.7" y1="404.4" x2="449.9" y2="404.4" stroke="#000" stroke-width="1.35" />
<line x1="296.3" y1="404.4" x2="296.3" y2="407.6" stroke="#000" stroke-width="1.35" />
<text x="296.3" y="416.6" font-size="8.5" font-weight="bold" text-anchor="middle" >-9</text>
<line x1="326.9" y1="404.4" x2="326.9" y2="407.6" stroke="#000" stroke-width="1.35" />
<text x="326.9" y="416.6" font-size="8.5" font-weight="bold" text-anchor="middle" >-8</text>
<line x1="357.5" y1="404.4" x2="357.5" y2="407.6" stroke="#000" stroke-width="1.35" />
<text x="357.5" y="416.6" font-size="8.5" font-weight="bold" text-anchor="middle" >-7</text>
<line x1="388.1" y1="404.4" x2="388.1" y2="407.6" stroke="#000" stroke-width="1.35" />
<text x="388.1" y="416.6" font-size="8.5" font-weight="bold" text-anchor="middle" >-6</text>
<line x1="418.7" y1="404.4" x2="418.7" y2="407.6" stroke="#000" stroke-width="1.35" />
<text x="418.7" y="416.6" font-size="8.5" font-weight="bold" text-anchor="middle" >-5</text>
<line x1="449.3" y1="404.4" x2="449.3" y2="407.6" stroke="#000" stroke-width="1.35" />
<text x="449.3" y="416.6" font-size="8.5" font-weight="bold" text-anchor="middle" >-4</text>
<text x="335.9" y="429.6" font-size="9" font-weight="bold" text-anchor="start" xml:space="preserve">Log <tspan dx="1.5">[SNP] (M)</tspan></text>
<text x="0" y="0" font-size="9" font-weight="bold" text-anchor="middle" transform="translate(257.2,339.6) rotate(-90)">Relaxation (%)</text>
<polyline points="296.3,299.25 311.6,303.13 326.9,308.94 342.2,319.6 357.5,331.23 372.8,344.79 388.1,361.27 403.4,372.9 418.7,380.65 434,388.4" fill="none" stroke="#000" stroke-width="0.95"/>
<polyline points="296.3,292.47 311.6,295.38 326.9,298.28 342.2,306.03 357.5,321.54 372.8,338.98 388.1,355.45 403.4,369.99 418.7,378.71 434,388.4" fill="none" stroke="#000" stroke-width="0.95"/>
<polyline points="296.3,292.47 311.6,296.35 326.9,300.22 342.2,308.94 357.5,327.35 372.8,350.61 388.1,369.02 403.4,378.71 418.7,384.52 434,388.4" fill="none" stroke="#000" stroke-width="0.95"/>
<line x1="296.3" y1="296.35" x2="296.3" y2="302.16" stroke="#000" stroke-width="1.1" />
<line x1="293.6" y1="296.35" x2="299" y2="296.35" stroke="#000" stroke-width="1.3" />
<line x1="293.6" y1="302.16" x2="299" y2="302.16" stroke="#000" stroke-width="1.3" />
<line x1="311.6" y1="299.25" x2="311.6" y2="307" stroke="#000" stroke-width="1.1" />
<line x1="308.9" y1="299.25" x2="314.3" y2="299.25" stroke="#000" stroke-width="1.3" />
<line x1="308.9" y1="307" x2="314.3" y2="307" stroke="#000" stroke-width="1.3" />
<line x1="326.9" y1="306.03" x2="326.9" y2="311.85" stroke="#000" stroke-width="1.1" />
<line x1="324.2" y1="306.03" x2="329.6" y2="306.03" stroke="#000" stroke-width="1.3" />
<line x1="324.2" y1="311.85" x2="329.6" y2="311.85" stroke="#000" stroke-width="1.3" />
<line x1="342.2" y1="314.76" x2="342.2" y2="324.45" stroke="#000" stroke-width="1.1" />
<line x1="339.5" y1="314.76" x2="344.9" y2="314.76" stroke="#000" stroke-width="1.3" />
<line x1="339.5" y1="324.45" x2="344.9" y2="324.45" stroke="#000" stroke-width="1.3" />
<line x1="357.5" y1="326.38" x2="357.5" y2="336.07" stroke="#000" stroke-width="1.1" />
<line x1="354.8" y1="326.38" x2="360.2" y2="326.38" stroke="#000" stroke-width="1.3" />
<line x1="354.8" y1="336.07" x2="360.2" y2="336.07" stroke="#000" stroke-width="1.3" />
<line x1="372.8" y1="338.98" x2="372.8" y2="350.61" stroke="#000" stroke-width="1.1" />
<line x1="370.1" y1="338.98" x2="375.5" y2="338.98" stroke="#000" stroke-width="1.3" />
<line x1="370.1" y1="350.61" x2="375.5" y2="350.61" stroke="#000" stroke-width="1.3" />
<line x1="388.1" y1="355.45" x2="388.1" y2="367.08" stroke="#000" stroke-width="1.1" />
<line x1="385.4" y1="355.45" x2="390.8" y2="355.45" stroke="#000" stroke-width="1.3" />
<line x1="385.4" y1="367.08" x2="390.8" y2="367.08" stroke="#000" stroke-width="1.3" />
<line x1="403.4" y1="368.05" x2="403.4" y2="377.74" stroke="#000" stroke-width="1.1" />
<line x1="400.7" y1="368.05" x2="406.1" y2="368.05" stroke="#000" stroke-width="1.3" />
<line x1="400.7" y1="377.74" x2="406.1" y2="377.74" stroke="#000" stroke-width="1.3" />
<line x1="418.7" y1="376.77" x2="418.7" y2="384.52" stroke="#000" stroke-width="1.1" />
<line x1="416" y1="376.77" x2="421.4" y2="376.77" stroke="#000" stroke-width="1.3" />
<line x1="416" y1="384.52" x2="421.4" y2="384.52" stroke="#000" stroke-width="1.3" />
<line x1="296.3" y1="290.53" x2="296.3" y2="294.41" stroke="#000" stroke-width="1.1" />
<line x1="293.6" y1="290.53" x2="299" y2="290.53" stroke="#000" stroke-width="1.3" />
<line x1="293.6" y1="294.41" x2="299" y2="294.41" stroke="#000" stroke-width="1.3" />
<line x1="311.6" y1="292.47" x2="311.6" y2="298.28" stroke="#000" stroke-width="1.1" />
<line x1="308.9" y1="292.47" x2="314.3" y2="292.47" stroke="#000" stroke-width="1.3" />
<line x1="308.9" y1="298.28" x2="314.3" y2="298.28" stroke="#000" stroke-width="1.3" />
<line x1="326.9" y1="295.38" x2="326.9" y2="301.19" stroke="#000" stroke-width="1.1" />
<line x1="324.2" y1="295.38" x2="329.6" y2="295.38" stroke="#000" stroke-width="1.3" />
<line x1="324.2" y1="301.19" x2="329.6" y2="301.19" stroke="#000" stroke-width="1.3" />
<line x1="342.2" y1="302.16" x2="342.2" y2="309.91" stroke="#000" stroke-width="1.1" />
<line x1="339.5" y1="302.16" x2="344.9" y2="302.16" stroke="#000" stroke-width="1.3" />
<line x1="339.5" y1="309.91" x2="344.9" y2="309.91" stroke="#000" stroke-width="1.3" />
<line x1="357.5" y1="316.69" x2="357.5" y2="326.38" stroke="#000" stroke-width="1.1" />
<line x1="354.8" y1="316.69" x2="360.2" y2="316.69" stroke="#000" stroke-width="1.3" />
<line x1="354.8" y1="326.38" x2="360.2" y2="326.38" stroke="#000" stroke-width="1.3" />
<line x1="372.8" y1="333.17" x2="372.8" y2="344.79" stroke="#000" stroke-width="1.1" />
<line x1="370.1" y1="333.17" x2="375.5" y2="333.17" stroke="#000" stroke-width="1.3" />
<line x1="370.1" y1="344.79" x2="375.5" y2="344.79" stroke="#000" stroke-width="1.3" />
<line x1="388.1" y1="349.64" x2="388.1" y2="361.27" stroke="#000" stroke-width="1.1" />
<line x1="385.4" y1="349.64" x2="390.8" y2="349.64" stroke="#000" stroke-width="1.3" />
<line x1="385.4" y1="361.27" x2="390.8" y2="361.27" stroke="#000" stroke-width="1.3" />
<line x1="403.4" y1="365.14" x2="403.4" y2="374.83" stroke="#000" stroke-width="1.1" />
<line x1="400.7" y1="365.14" x2="406.1" y2="365.14" stroke="#000" stroke-width="1.3" />
<line x1="400.7" y1="374.83" x2="406.1" y2="374.83" stroke="#000" stroke-width="1.3" />
<line x1="418.7" y1="374.83" x2="418.7" y2="382.59" stroke="#000" stroke-width="1.1" />
<line x1="416" y1="374.83" x2="421.4" y2="374.83" stroke="#000" stroke-width="1.3" />
<line x1="416" y1="382.59" x2="421.4" y2="382.59" stroke="#000" stroke-width="1.3" />
<line x1="296.3" y1="290.53" x2="296.3" y2="294.41" stroke="#000" stroke-width="1.1" />
<line x1="293.6" y1="290.53" x2="299" y2="290.53" stroke="#000" stroke-width="1.3" />
<line x1="293.6" y1="294.41" x2="299" y2="294.41" stroke="#000" stroke-width="1.3" />
<line x1="311.6" y1="293.44" x2="311.6" y2="299.25" stroke="#000" stroke-width="1.1" />
<line x1="308.9" y1="293.44" x2="314.3" y2="293.44" stroke="#000" stroke-width="1.3" />
<line x1="308.9" y1="299.25" x2="314.3" y2="299.25" stroke="#000" stroke-width="1.3" />
<line x1="326.9" y1="297.31" x2="326.9" y2="303.13" stroke="#000" stroke-width="1.1" />
<line x1="324.2" y1="297.31" x2="329.6" y2="297.31" stroke="#000" stroke-width="1.3" />
<line x1="324.2" y1="303.13" x2="329.6" y2="303.13" stroke="#000" stroke-width="1.3" />
<line x1="342.2" y1="305.07" x2="342.2" y2="312.82" stroke="#000" stroke-width="1.1" />
<line x1="339.5" y1="305.07" x2="344.9" y2="305.07" stroke="#000" stroke-width="1.3" />
<line x1="339.5" y1="312.82" x2="344.9" y2="312.82" stroke="#000" stroke-width="1.3" />
<line x1="357.5" y1="322.51" x2="357.5" y2="332.2" stroke="#000" stroke-width="1.1" />
<line x1="354.8" y1="322.51" x2="360.2" y2="322.51" stroke="#000" stroke-width="1.3" />
<line x1="354.8" y1="332.2" x2="360.2" y2="332.2" stroke="#000" stroke-width="1.3" />
<line x1="372.8" y1="344.79" x2="372.8" y2="356.42" stroke="#000" stroke-width="1.1" />
<line x1="370.1" y1="344.79" x2="375.5" y2="344.79" stroke="#000" stroke-width="1.3" />
<line x1="370.1" y1="356.42" x2="375.5" y2="356.42" stroke="#000" stroke-width="1.3" />
<line x1="388.1" y1="364.17" x2="388.1" y2="373.87" stroke="#000" stroke-width="1.1" />
<line x1="385.4" y1="364.17" x2="390.8" y2="364.17" stroke="#000" stroke-width="1.3" />
<line x1="385.4" y1="373.87" x2="390.8" y2="373.87" stroke="#000" stroke-width="1.3" />
<line x1="403.4" y1="374.83" x2="403.4" y2="382.59" stroke="#000" stroke-width="1.1" />
<line x1="400.7" y1="374.83" x2="406.1" y2="374.83" stroke="#000" stroke-width="1.3" />
<line x1="400.7" y1="382.59" x2="406.1" y2="382.59" stroke="#000" stroke-width="1.3" />
<line x1="418.7" y1="381.62" x2="418.7" y2="387.43" stroke="#000" stroke-width="1.1" />
<line x1="416" y1="381.62" x2="421.4" y2="381.62" stroke="#000" stroke-width="1.3" />
<line x1="416" y1="387.43" x2="421.4" y2="387.43" stroke="#000" stroke-width="1.3" />
<polygon points="296.3,297.05 298.3,300.9 294.3,300.9" fill="#fff" stroke="#000" stroke-width="1.5" stroke-linejoin="round"/>
<polygon points="311.6,300.93 313.6,304.78 309.6,304.78" fill="#fff" stroke="#000" stroke-width="1.5" stroke-linejoin="round"/>
<polygon points="326.9,306.74 328.9,310.59 324.9,310.59" fill="#fff" stroke="#000" stroke-width="1.5" stroke-linejoin="round"/>
<polygon points="342.2,317.4 344.2,321.25 340.2,321.25" fill="#fff" stroke="#000" stroke-width="1.5" stroke-linejoin="round"/>
<polygon points="357.5,329.03 359.5,332.88 355.5,332.88" fill="#fff" stroke="#000" stroke-width="1.5" stroke-linejoin="round"/>
<polygon points="372.8,342.59 374.8,346.44 370.8,346.44" fill="#fff" stroke="#000" stroke-width="1.5" stroke-linejoin="round"/>
<polygon points="388.1,359.07 390.1,362.92 386.1,362.92" fill="#fff" stroke="#000" stroke-width="1.5" stroke-linejoin="round"/>
<polygon points="403.4,370.7 405.4,374.55 401.4,374.55" fill="#fff" stroke="#000" stroke-width="1.5" stroke-linejoin="round"/>
<polygon points="418.7,378.45 420.7,382.3 416.7,382.3" fill="#fff" stroke="#000" stroke-width="1.5" stroke-linejoin="round"/>
<polygon points="434,386.2 436,390.05 432,390.05" fill="#fff" stroke="#000" stroke-width="1.5" stroke-linejoin="round"/>
<rect x="294.4" y="290.57" width="3.8" height="3.8" fill="#fff" stroke="#000" stroke-width="1.1"/>
<rect x="309.7" y="293.48" width="3.8" height="3.8" fill="#fff" stroke="#000" stroke-width="1.1"/>
<rect x="325" y="296.38" width="3.8" height="3.8" fill="#fff" stroke="#000" stroke-width="1.1"/>
<rect x="340.3" y="304.13" width="3.8" height="3.8" fill="#fff" stroke="#000" stroke-width="1.1"/>
<rect x="355.6" y="319.64" width="3.8" height="3.8" fill="#fff" stroke="#000" stroke-width="1.1"/>
<rect x="370.9" y="337.08" width="3.8" height="3.8" fill="#fff" stroke="#000" stroke-width="1.1"/>
<rect x="386.2" y="353.55" width="3.8" height="3.8" fill="#fff" stroke="#000" stroke-width="1.1"/>
<rect x="401.5" y="368.09" width="3.8" height="3.8" fill="#fff" stroke="#000" stroke-width="1.1"/>
<rect x="416.8" y="376.81" width="3.8" height="3.8" fill="#fff" stroke="#000" stroke-width="1.1"/>
<rect x="432.1" y="386.5" width="3.8" height="3.8" fill="#fff" stroke="#000" stroke-width="1.1"/>
<polygon points="293.95,290.57 298.65,290.57 296.3,294.77" fill="#fff" stroke="#000" stroke-width="1.8" stroke-linejoin="round"/>
<polygon points="309.25,294.45 313.95,294.45 311.6,298.65" fill="#fff" stroke="#000" stroke-width="1.8" stroke-linejoin="round"/>
<polygon points="324.55,298.32 329.25,298.32 326.9,302.52" fill="#fff" stroke="#000" stroke-width="1.8" stroke-linejoin="round"/>
<polygon points="339.85,307.04 344.55,307.04 342.2,311.24" fill="#fff" stroke="#000" stroke-width="1.8" stroke-linejoin="round"/>
<polygon points="355.15,325.45 359.85,325.45 357.5,329.65" fill="#fff" stroke="#000" stroke-width="1.8" stroke-linejoin="round"/>
<polygon points="370.45,348.71 375.15,348.71 372.8,352.91" fill="#fff" stroke="#000" stroke-width="1.8" stroke-linejoin="round"/>
<polygon points="385.75,367.12 390.45,367.12 388.1,371.32" fill="#fff" stroke="#000" stroke-width="1.8" stroke-linejoin="round"/>
<polygon points="401.05,376.81 405.75,376.81 403.4,381.01" fill="#fff" stroke="#000" stroke-width="1.8" stroke-linejoin="round"/>
<polygon points="416.35,382.62 421.05,382.62 418.7,386.82" fill="#fff" stroke="#000" stroke-width="1.8" stroke-linejoin="round"/>
<polygon points="431.65,386.5 436.35,386.5 434,390.7" fill="#fff" stroke="#000" stroke-width="1.8" stroke-linejoin="round"/>
<line x1="288.3" y1="348.1" x2="300.9" y2="348.1" stroke="#000" stroke-width="0.9" />
<polygon points="294.4,345.9 296.4,349.75 292.4,349.75" fill="#fff" stroke="#000" stroke-width="1.15" stroke-linejoin="round"/>
<line x1="288.3" y1="361.6" x2="300.9" y2="361.6" stroke="#000" stroke-width="0.9" />
<rect x="292.52" y="359.73" width="3.75" height="3.75" fill="none" stroke="#000" stroke-width="1.15"/>
<line x1="288.3" y1="375.6" x2="300.9" y2="375.6" stroke="#000" stroke-width="0.9" />
<polygon points="292.05,373.7 296.75,373.7 294.4,377.9" fill="#fff" stroke="#000" stroke-width="1.5" stroke-linejoin="round"/>
<text x="312" y="351.2" font-size="9" font-weight="normal" text-anchor="start" >WT</text>
<text y="364.4" font-size="8.6"><tspan x="310.7">K</tspan><tspan font-size="6.3" dy="2.8">Ca</tspan><tspan dy="-2.8" dx="0.5">2.3</tspan><tspan font-size="6.5" font-style="italic" dy="-3.9" dx="1.0">T/T</tspan><tspan font-size="6.8" dx="1.6" dy="0.5">(+Dox)</tspan></text>
<text y="378.8" font-size="8.6"><tspan x="311.2">K</tspan><tspan font-size="6.3" dy="2.8">Ca</tspan><tspan dy="-2.8" dx="0.5">2.3</tspan><tspan font-size="6.5" font-style="italic" dy="-3.9" dx="1.0">T/T</tspan><tspan font-size="6.8" dx="1.6" dy="0.5">(-Dox)</tspan></text>
<line x1="504.7" y1="219.9" x2="504.7" y2="318.2" stroke="#000" stroke-width="1.35" />
<line x1="500.7" y1="317.6" x2="504.7" y2="317.6" stroke="#000" stroke-width="1.35" />
<text x="500.6" y="321.2" font-size="8.5" font-weight="bold" text-anchor="end" >0</text>
<line x1="500.7" y1="293.33" x2="504.7" y2="293.33" stroke="#000" stroke-width="1.35" />
<text x="500.6" y="296.93" font-size="8.5" font-weight="bold" text-anchor="end" >5</text>
<line x1="500.7" y1="269.05" x2="504.7" y2="269.05" stroke="#000" stroke-width="1.35" />
<text x="500.6" y="272.65" font-size="8.5" font-weight="bold" text-anchor="end" >10</text>
<line x1="500.7" y1="244.78" x2="504.7" y2="244.78" stroke="#000" stroke-width="1.35" />
<text x="500.6" y="248.38" font-size="8.5" font-weight="bold" text-anchor="end" >15</text>
<line x1="500.7" y1="220.5" x2="504.7" y2="220.5" stroke="#000" stroke-width="1.35" />
<text x="500.6" y="224.1" font-size="8.5" font-weight="bold" text-anchor="end" >20</text>
<text x="0" y="0" font-size="9" font-weight="bold" text-anchor="middle" transform="translate(484.1,268.9) rotate(-90)">% of Relaxation</text>
<rect x="532.2" y="260.31" width="52.3" height="57.59" fill="#616161"/>
<rect x="608.4" y="295.51" width="52.6" height="22.39" fill="#1a1a1a"/>
<line x1="558.3" y1="260.31" x2="558.3" y2="245.6" stroke="#6a6a6a" stroke-width="1.0" />
<line x1="545" y1="245.6" x2="571.2" y2="245.6" stroke="#6a6a6a" stroke-width="1.1" />
<line x1="634.6" y1="295.51" x2="634.6" y2="272.8" stroke="#1c1c1c" stroke-width="1.0" />
<line x1="621.8" y1="272.8" x2="648" y2="272.8" stroke="#1c1c1c" stroke-width="1.1" />
<line x1="519.9" y1="333.5" x2="672.9" y2="333.5" stroke="#000" stroke-width="1.4" />
<line x1="558.4" y1="333.5" x2="558.4" y2="336.8" stroke="#000" stroke-width="1.35" />
<line x1="634.6" y1="333.5" x2="634.6" y2="336.8" stroke="#000" stroke-width="1.35" />
<text x="558.4" y="346.2" font-size="8.5" font-weight="bold" text-anchor="middle" >Control</text>
<text x="634.6" y="346" font-size="8.5" font-weight="bold" text-anchor="middle" >Apamin</text>
<text x="560.8" y="363.7" font-size="10.7" font-weight="bold" transform="translate(0,29.1) scale(1,0.92)" transform-origin="0 0">10<tspan font-size="7" dy="-3.4" dx="0.3">-8</tspan><tspan dy="3.4" dx="0.2">M [NS309]</tspan></text>
<polyline points="558.7,228 558.7,220.6 634.2,220.6 634.2,228" fill="none" stroke="#000" stroke-width="2"/>
<text x="595.8" y="218" font-size="14" font-weight="bold" text-anchor="middle" >*</text>
</svg></body></html>
